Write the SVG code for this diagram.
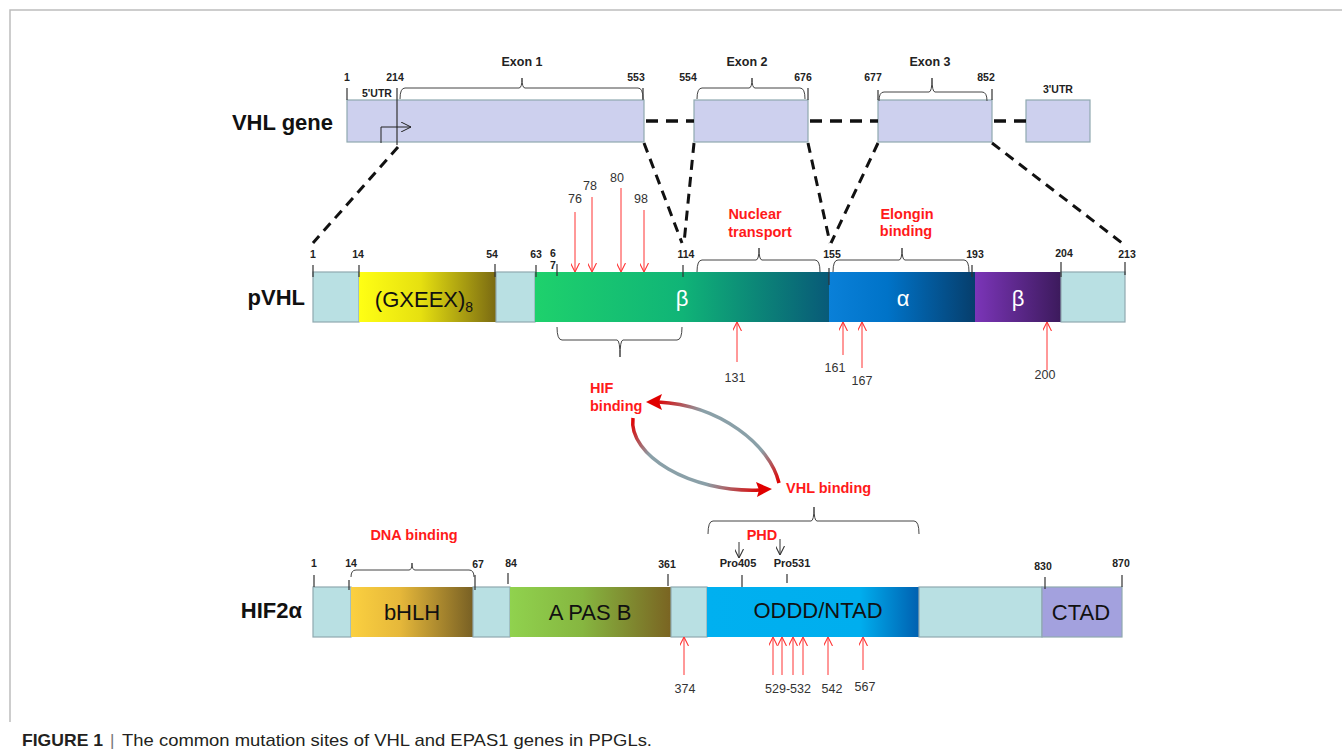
<svg xmlns="http://www.w3.org/2000/svg" width="1342" height="756" viewBox="0 0 1342 756">
<defs>
<style>
.num{font-family:"Liberation Sans",Arial,sans-serif;font-size:10.5px;font-weight:bold;fill:#222;text-anchor:middle}
.pro{font-family:"Liberation Sans",Arial,sans-serif;font-size:11px;font-weight:bold;fill:#222;text-anchor:middle}
.exon{font-family:"Liberation Sans",Arial,sans-serif;font-size:12.5px;font-weight:bold;fill:#222;text-anchor:middle}
.title{font-family:"Liberation Sans",Arial,sans-serif;font-size:22px;font-weight:bold;fill:#111;text-anchor:end}
.red{font-family:"Liberation Sans",Arial,sans-serif;font-size:14.5px;font-weight:bold;fill:#ff1a1a;text-anchor:middle}
.redl{font-family:"Liberation Sans",Arial,sans-serif;font-size:14.5px;font-weight:bold;fill:#ff1a1a;text-anchor:start}
.mut{font-family:"Liberation Sans",Arial,sans-serif;font-size:12.5px;fill:#333;text-anchor:middle}
.dom{font-family:"Liberation Sans",Arial,sans-serif;font-size:22px;fill:#111;text-anchor:middle}
.greek{font-family:"Liberation Sans",Arial,sans-serif;font-size:22px;fill:#fff;text-anchor:middle}
.gene{fill:#cdd0ee;stroke:#8fa9b0;stroke-width:1.2}
.cy{fill:#b9e0e3;stroke:#8fa9b0;stroke-width:1.2}
.tick{stroke:#333;stroke-width:1.2;fill:none}
.br{stroke:#444;stroke-width:1;fill:none}
.dashg{stroke:#111;stroke-width:3.5;stroke-dasharray:12 8;fill:none}
.dashz{stroke:#111;stroke-width:3;stroke-dasharray:10 7;fill:none}
.ra{stroke:#ff3333;stroke-width:1;fill:none}
.ka{stroke:#333;stroke-width:1;fill:none}
.frame{stroke:#bdbdbd;stroke-width:1.5;fill:none}
.cap{font-family:"Liberation Sans",Arial,sans-serif;font-size:17px;fill:#231f20}
</style>
<marker id="mr" viewBox="0 0 10 10" refX="10" refY="5" markerWidth="9" markerHeight="9" orient="auto" markerUnits="userSpaceOnUse">
<path d="M0 0 L10 5 L0 10" fill="none" stroke="#ff3333" stroke-width="1.2"/>
</marker>
<marker id="mk" viewBox="0 0 10 10" refX="10" refY="5" markerWidth="9" markerHeight="9" orient="auto" markerUnits="userSpaceOnUse">
<path d="M0 0 L10 5 L0 10" fill="none" stroke="#333" stroke-width="1.2"/>
</marker>
<marker id="mt" viewBox="0 0 10 10" refX="10" refY="5" markerWidth="10" markerHeight="10" orient="auto" markerUnits="userSpaceOnUse">
<path d="M0 0 L10 5 L0 10" fill="none" stroke="#222" stroke-width="1"/>
</marker>
<linearGradient id="gY" x1="0" x2="1" y1="0" y2="0"><stop offset="0" stop-color="#ffff14"/><stop offset="0.45" stop-color="#e6e010"/><stop offset="1" stop-color="#7a6a12"/></linearGradient>
<linearGradient id="gG" x1="0" x2="1" y1="0" y2="0"><stop offset="0" stop-color="#1ed16c"/><stop offset="0.5" stop-color="#10b477"/><stop offset="1" stop-color="#085a78"/></linearGradient>
<linearGradient id="gA" x1="0" x2="1" y1="0" y2="0"><stop offset="0" stop-color="#0a80d8"/><stop offset="0.4" stop-color="#0073c8"/><stop offset="1" stop-color="#063e6c"/></linearGradient>
<linearGradient id="gP" x1="0" x2="1" y1="0" y2="0"><stop offset="0" stop-color="#7b35b8"/><stop offset="1" stop-color="#3c1a5c"/></linearGradient>
<linearGradient id="gH" x1="0" x2="1" y1="0" y2="0"><stop offset="0" stop-color="#fbd040"/><stop offset="0.4" stop-color="#e6b83a"/><stop offset="1" stop-color="#786024"/></linearGradient>
<linearGradient id="gS" x1="0" x2="1" y1="0" y2="0"><stop offset="0" stop-color="#90d24e"/><stop offset="0.45" stop-color="#86b640"/><stop offset="1" stop-color="#7a6422"/></linearGradient>
<linearGradient id="gO" x1="0" x2="1" y1="0" y2="0"><stop offset="0" stop-color="#00b0f0"/><stop offset="0.72" stop-color="#00aeee"/><stop offset="1" stop-color="#0060b0"/></linearGradient>
<linearGradient id="gArcA" gradientUnits="userSpaceOnUse" x1="779" y1="483" x2="655" y2="402"><stop offset="0" stop-color="#e00000"/><stop offset="0.22" stop-color="#8aa0a8"/><stop offset="0.7" stop-color="#8aa0a8"/><stop offset="1" stop-color="#e00000"/></linearGradient>
<linearGradient id="gArcB" gradientUnits="userSpaceOnUse" x1="633" y1="418" x2="762" y2="490"><stop offset="0" stop-color="#e00000"/><stop offset="0.22" stop-color="#8aa0a8"/><stop offset="0.65" stop-color="#8aa0a8"/><stop offset="1" stop-color="#e00000"/></linearGradient>
</defs>

<rect width="1342" height="756" fill="#fff"/>
<path class="frame" d="M10 722 V10 H1342"/>

<g id="vhl-gene">
<text class="title" x="333" y="130">VHL gene</text>
<rect class="gene" x="347" y="100" width="297" height="42"/>
<rect class="gene" x="694" y="100" width="114" height="42"/>
<rect class="gene" x="878" y="100" width="114" height="42"/>
<rect class="gene" x="1026" y="100" width="64" height="42"/>
<text class="num" x="347" y="81">1</text>
<text class="num" x="395" y="81">214</text>
<text class="num" x="636" y="81">553</text>
<text class="num" x="688" y="81">554</text>
<text class="num" x="803" y="81">676</text>
<text class="num" x="873" y="81">677</text>
<text class="num" x="986" y="81">852</text>
<text class="num" x="1058" y="93">3'UTR</text>
<text class="num" x="377" y="97">5'UTR</text>
<text class="exon" x="522" y="66">Exon 1</text>
<text class="exon" x="747" y="66">Exon 2</text>
<text class="exon" x="930" y="66">Exon 3</text>
<path class="tick" d="M347 88 V100 M643 88 V100 M808 88 V100 M878 90 V100 M992 89 V100"/>
<path class="tick" d="M397 88 V145"/>
<path class="br" d="M400 99 Q400 88 405 88 H519 Q522 88 522 78 Q522 88 525 88 H638 Q643 88 643 99"/>
<path class="br" d="M697 99 Q697 88 702 88 H749 Q752 88 752 78 Q752 88 755 88 H800 Q805 88 805 99"/>
<path class="br" d="M879 101 Q879 92 884 92 H929 Q932 92 932 78 Q932 92 935 92 H982 Q987 92 987 101"/>
<path d="M381 143 V127 H411" fill="none" stroke="#222" stroke-width="1" marker-end="url(#mt)"/>
</g>

<g id="connectors">
<path class="dashg" d="M646 121 H694 M810 121 H878 M994 121 H1026"/>
<path class="dashz" d="M398 147 L313 243"/>
<path class="dashz" d="M644 143 L682 243"/>
<path class="dashz" d="M694 143 L684 243"/>
<path class="dashz" d="M808 143 L830 243"/>
<path class="dashz" d="M878 143 L831 243"/>
<path class="dashz" d="M992 143 L1122 243"/>
</g>

<g id="pvhl">
<text class="title" x="305" y="305">pVHL</text>
<rect class="cy" x="313" y="272" width="46" height="50"/>
<rect x="359" y="272" width="137" height="50" fill="url(#gY)"/>
<rect class="cy" x="496" y="272" width="39" height="50"/>
<rect x="535" y="272" width="294" height="50" fill="url(#gG)"/>
<rect x="829" y="272" width="146" height="50" fill="url(#gA)"/>
<rect x="975" y="272" width="86" height="50" fill="url(#gP)"/>
<rect class="cy" x="1061" y="272" width="64" height="50"/>
<text class="dom" x="424" y="307">(GXEEX)<tspan font-size="14" dy="5">8</tspan></text>
<text class="greek" x="682" y="306">β</text>
<text class="greek" x="903" y="306">α</text>
<text class="greek" x="1018" y="306">β</text>
<text class="num" x="313" y="258">1</text>
<text class="num" x="358" y="258">14</text>
<text class="num" x="492" y="258">54</text>
<text class="num" x="536" y="258">63</text>
<text class="num" x="553" y="257">6</text>
<text class="num" x="553" y="269">7</text>
<text class="num" x="686" y="258">114</text>
<text class="num" x="832" y="258">155</text>
<text class="num" x="975" y="258">193</text>
<text class="num" x="1064" y="257">204</text>
<text class="num" x="1127" y="258">213</text>
<path class="tick" d="M313 265 V277 M359 265 V277 M495 264 V277 M536 265 V277 M557 264 V276 M683 265 V277 M829 268 V285 M972 265 V277 M1061 262 V277 M1125 262 V275"/>
<path class="br" d="M697 272 Q697 260 702 260 H756 Q759 260 759 248 Q759 260 762 260 H815 Q820 260 820 272"/>
<path class="br" d="M833 272 Q833 260 838 260 H899 Q902 260 902 248 Q902 260 905 260 H964 Q969 260 969 272"/>
<path class="br" d="M557 327 Q557 340 562 340 H617 Q620 340 620 357 Q620 340 623 340 H677 Q682 340 682 327"/>
<text class="red" x="755" y="219">Nuclear</text>
<text class="red" x="760" y="237">transport</text>
<text class="red" x="907" y="219">Elongin</text>
<text class="red" x="906" y="236">binding</text>
<text class="mut" x="575" y="203">76</text>
<text class="mut" x="590" y="190">78</text>
<text class="mut" x="617" y="182">80</text>
<text class="mut" x="641" y="203">98</text>
<path class="ra" d="M575 212 V272" marker-end="url(#mr)"/>
<path class="ra" d="M592 197 V272" marker-end="url(#mr)"/>
<path class="ra" d="M621 188 V272" marker-end="url(#mr)"/>
<path class="ra" d="M644 210 V272" marker-end="url(#mr)"/>
<path class="ra" d="M737 362 V322" marker-end="url(#mr)"/>
<path class="ra" d="M843 355 V322" marker-end="url(#mr)"/>
<path class="ra" d="M862 368 V322" marker-end="url(#mr)"/>
<path class="ra" d="M1047 370 V322" marker-end="url(#mr)"/>
<text class="mut" x="735" y="382">131</text>
<text class="mut" x="835" y="372">161</text>
<text class="mut" x="862" y="385">167</text>
<text class="mut" x="1045" y="379">200</text>
</g>

<g id="binding-cycle">
<path d="M779 483 C770 445 720 405 658 402" fill="none" stroke="url(#gArcA)" stroke-width="3.5"/>
<path d="M646 402 L662 394 L659 402 L662 410 Z" fill="#e00000"/>
<path d="M633 418 C628 455 690 493 760 490" fill="none" stroke="url(#gArcB)" stroke-width="3.5"/>
<path d="M772 489 L756 482 L759 490 L757 497 Z" fill="#e00000"/>
<text class="redl" x="590" y="393">HIF</text>
<text class="redl" x="590" y="411">binding</text>
<text class="redl" x="786" y="493">VHL binding</text>
</g>

<g id="hif2a">
<text class="title" x="302" y="618">HIF2α</text>
<rect class="cy" x="313" y="587" width="38" height="50"/>
<rect x="351" y="587" width="122" height="50" fill="url(#gH)"/>
<rect class="cy" x="473" y="587" width="37" height="50"/>
<rect x="510" y="587" width="161" height="50" fill="url(#gS)"/>
<rect class="cy" x="671" y="587" width="36" height="50"/>
<rect x="707" y="587" width="212" height="50" fill="url(#gO)"/>
<rect class="cy" x="919" y="587" width="123" height="50"/>
<rect x="1042" y="587" width="80" height="50" fill="#a3a1de" stroke="#8fa9b0" stroke-width="1.2"/>
<text class="dom" x="412" y="620">bHLH</text>
<text class="dom" x="590" y="620">A PAS B</text>
<text class="dom" x="818" y="618">ODDD/NTAD</text>
<text class="dom" x="1081" y="620">CTAD</text>
<text class="num" x="314" y="567">1</text>
<text class="num" x="351" y="567">14</text>
<text class="num" x="478" y="568">67</text>
<text class="num" x="511" y="567">84</text>
<text class="num" x="667" y="568">361</text>
<text class="num" x="1043" y="570">830</text>
<text class="num" x="1121" y="567">870</text>
<text class="pro" x="738" y="567">Pro405</text>
<text class="pro" x="792" y="567">Pro531</text>
<path class="tick" d="M314 575 V587 M349 580 V590 M475 575 V590 M508 573 V584 M668 574 V586 M1045 577 V589 M1122 575 V587 M742 575 V587 M787 574 V583"/>
<path class="br" d="M351 577 Q351 570 356 570 H409 Q412 570 412 563 Q412 570 415 570 H469 Q474 570 474 577"/>
<path class="br" d="M708 534 Q708 521 713 521 H811 Q814 521 814 507 Q814 521 817 521 H914 Q919 521 919 534"/>
<text class="red" x="414" y="540">DNA binding</text>
<text class="red" x="762" y="540">PHD</text>
<path class="ka" d="M739 542 V558" marker-end="url(#mk)"/>
<path class="ka" d="M780 539 V555" marker-end="url(#mk)"/>
<path class="ra" d="M684 675 V637" marker-end="url(#mr)"/>
<path class="ra" d="M773 675 V637" marker-end="url(#mr)"/>
<path class="ra" d="M782 675 V637" marker-end="url(#mr)"/>
<path class="ra" d="M793 675 V637" marker-end="url(#mr)"/>
<path class="ra" d="M803 675 V637" marker-end="url(#mr)"/>
<path class="ra" d="M828 675 V637" marker-end="url(#mr)"/>
<path class="ra" d="M863 670 V637" marker-end="url(#mr)"/>
<text class="mut" x="685" y="693">374</text>
<text class="mut" x="788" y="693">529-532</text>
<text class="mut" x="832" y="693">542</text>
<text class="mut" x="865" y="691">567</text>
</g>

<g id="caption">
<text class="cap" x="22" y="746" font-weight="bold" textLength="81" lengthAdjust="spacingAndGlyphs">FIGURE 1</text>
<text class="cap" x="110" y="746" style="fill:#777">|</text>
<text class="cap" x="122" y="746" textLength="530" lengthAdjust="spacingAndGlyphs">The common mutation sites of VHL and EPAS1 genes in PPGLs.</text>
</g>
</svg>
